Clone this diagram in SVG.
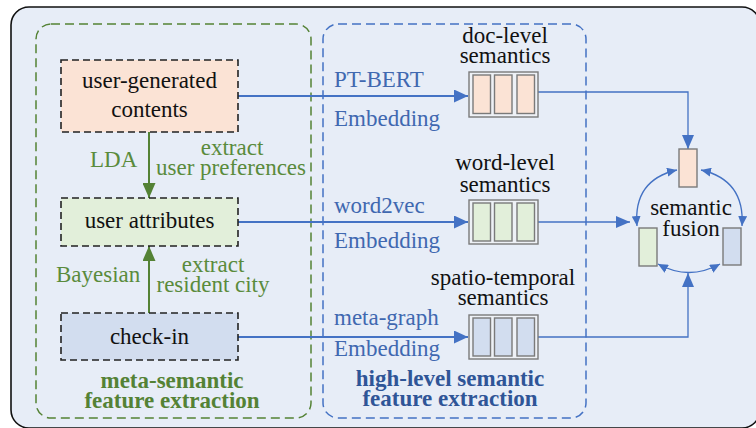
<svg xmlns="http://www.w3.org/2000/svg" width="756" height="428" viewBox="0 0 756 428" font-family="'Liberation Serif', 'DejaVu Serif', 'Times New Roman', serif">
<defs>
<style>
text{font-family:'Liberation Serif','DejaVu Serif','Times New Roman',serif;font-size:23px}
.blk{fill:#111}
.grn{fill:#5a8b3c}
.blu{fill:#4068b0}
.bgrn{fill:#548235;font-weight:bold}
.bblu{fill:#2f5597;font-weight:bold}
.node{stroke:#222;stroke-width:1.6;stroke-dasharray:7,4}
.cell{stroke:#7a7a7a;stroke-width:1.4}
.bl{fill:none;stroke:#4472c4;stroke-width:1.8}
.bl2{fill:none;stroke:#4472c4;stroke-width:1.3}
.gl{fill:none;stroke:#548235;stroke-width:2}
</style>
<marker id="ab" markerUnits="userSpaceOnUse" markerWidth="14" markerHeight="13" refX="14" refY="6.5" orient="auto"><path d="M0,0 L14,6.5 L0,13 z" fill="#4472c4"/></marker>
<marker id="ab2" markerUnits="userSpaceOnUse" markerWidth="14" markerHeight="12" refX="14" refY="6" orient="auto"><path d="M0,0 L14,6 L0,12 z" fill="#4472c4"/></marker>
<marker id="ag" markerUnits="userSpaceOnUse" markerWidth="15" markerHeight="13" refX="15" refY="6.5" orient="auto"><path d="M0,0 L15,6.5 L0,13 z" fill="#548235"/></marker>
<marker id="ac" markerUnits="userSpaceOnUse" markerWidth="10" markerHeight="9" refX="10" refY="4.5" orient="auto-start-reverse"><path d="M0,0 L10,4.5 L0,9 z" fill="#4472c4"/></marker>
</defs>
<rect x="0" y="0" width="756" height="428" fill="#fff"/>
<rect x="11" y="7" width="749" height="421" rx="18" fill="#e7edf7" stroke="#111" stroke-width="1.6"/>
<g id="group-meta">
<rect x="36" y="24" width="275" height="394" rx="15" fill="none" stroke="#548235" stroke-width="1.5" stroke-dasharray="9,5"/>
<text class="bgrn" x="172" y="388" text-anchor="middle">meta-semantic</text>
<text class="bgrn" x="172" y="408" text-anchor="middle">feature extraction</text>
</g>
<g id="group-high">
<rect x="323" y="24" width="263" height="394" rx="15" fill="none" stroke="#4472c4" stroke-width="1.5" stroke-dasharray="9,5"/>
<text class="bblu" x="450" y="386" text-anchor="middle">high-level semantic</text>
<text class="bblu" x="450" y="406" text-anchor="middle">feature extraction</text>
</g>
<g id="connectors">
<line class="gl" x1="149" y1="132" x2="149" y2="198" marker-end="url(#ag)"/>
<line class="gl" x1="149" y1="313" x2="149" y2="246" marker-end="url(#ag)"/>
<line class="bl" x1="238" y1="96" x2="468" y2="96" marker-end="url(#ab)"/>
<line class="bl" x1="238" y1="222" x2="468" y2="222" marker-end="url(#ab)"/>
<line class="bl" x1="238" y1="337" x2="468" y2="337" marker-end="url(#ab)"/>
<polyline class="bl2" points="538,92 688,92 688,149" marker-end="url(#ab2)"/>
<line class="bl2" x1="538" y1="222" x2="630" y2="222" marker-end="url(#ab2)"/>
<polyline class="bl2" points="538,337 688,337 688,273" marker-end="url(#ab2)"/>
<path class="bl2" d="M677,170 Q633,180 637,226" marker-start="url(#ac)" marker-end="url(#ac)"/>
<path class="bl2" d="M701,170 Q745,180 742,226" marker-start="url(#ac)" marker-end="url(#ac)"/>
<path class="bl2" d="M658,264 Q689,281 720,264" marker-start="url(#ac)" marker-end="url(#ac)"/>
<text class="grn" x="90" y="167">LDA</text>
<text class="grn" x="232" y="155" text-anchor="middle">extract</text>
<text class="grn" x="231" y="175" text-anchor="middle">user preferences</text>
<text class="grn" x="56" y="282">Bayesian</text>
<text class="grn" x="213" y="272" text-anchor="middle">extract</text>
<text class="grn" x="213" y="292" text-anchor="middle">resident city</text>
<text class="blu" x="334" y="87">PT-BERT</text>
<text class="blu" x="334" y="126">Embedding</text>
<text class="blu" x="334" y="213">word2vec</text>
<text class="blu" x="334" y="248">Embedding</text>
<text class="blu" x="334" y="325">meta-graph</text>
<text class="blu" x="334" y="356">Embedding</text>
</g>
<g id="node-ugc">
<rect class="node" x="61" y="60" width="177" height="72" fill="#fbe3d5"/>
<text class="blk" x="149.5" y="88" text-anchor="middle">user-generated</text>
<text class="blk" x="149.5" y="117" text-anchor="middle">contents</text>
</g>
<g id="node-attr">
<rect class="node" x="61" y="198" width="177" height="48" fill="#e2efda"/>
<text class="blk" x="149.5" y="228" text-anchor="middle">user attributes</text>
</g>
<g id="node-checkin">
<rect class="node" x="61" y="313" width="177" height="47" fill="#d2ddef"/>
<text class="blk" x="149.5" y="344" text-anchor="middle">check-in</text>
</g>
<g id="node-doc">
<text class="blk" x="505" y="43" text-anchor="middle">doc-level</text>
<text class="blk" x="505" y="63" text-anchor="middle">semantics</text>
<rect class="cell" x="469" y="72" width="69" height="45" fill="#eef1f6"/>
<rect class="cell" x="473" y="75" width="17.5" height="38.5" fill="#fbe3d5"/>
<rect class="cell" x="494.5" y="75" width="17.5" height="38.5" fill="#fbe3d5"/>
<rect class="cell" x="517" y="75" width="17.5" height="38.5" fill="#fbe3d5"/>
</g>
<g id="node-word">
<text class="blk" x="505" y="170" text-anchor="middle">word-level</text>
<text class="blk" x="505" y="192" text-anchor="middle">semantics</text>
<rect class="cell" x="469" y="200" width="69" height="44" fill="#eef1f6"/>
<rect class="cell" x="473" y="203" width="17.5" height="38" fill="#e2efda"/>
<rect class="cell" x="494.5" y="203" width="17.5" height="38" fill="#e2efda"/>
<rect class="cell" x="517" y="203" width="17.5" height="38" fill="#e2efda"/>
</g>
<g id="node-spatio">
<text class="blk" x="503" y="285" text-anchor="middle">spatio-temporal</text>
<text class="blk" x="503" y="305" text-anchor="middle">semantics</text>
<rect class="cell" x="469" y="315" width="69" height="44" fill="#eef1f6"/>
<rect class="cell" x="473" y="318" width="17.5" height="38" fill="#d2ddef"/>
<rect class="cell" x="494.5" y="318" width="17.5" height="38" fill="#d2ddef"/>
<rect class="cell" x="517" y="318" width="17.5" height="38" fill="#d2ddef"/>
</g>
<g id="node-fusion">
<rect class="cell" x="679" y="149" width="18" height="38" fill="#fbe3d5"/>
<rect class="cell" x="639" y="228" width="18" height="38" fill="#e2efda"/>
<rect class="cell" x="723" y="228" width="18" height="37" fill="#d2ddef"/>
<text class="blk" x="691" y="215" text-anchor="middle">semantic</text>
<text class="blk" x="691" y="236" text-anchor="middle">fusion</text>
</g>
</svg>
